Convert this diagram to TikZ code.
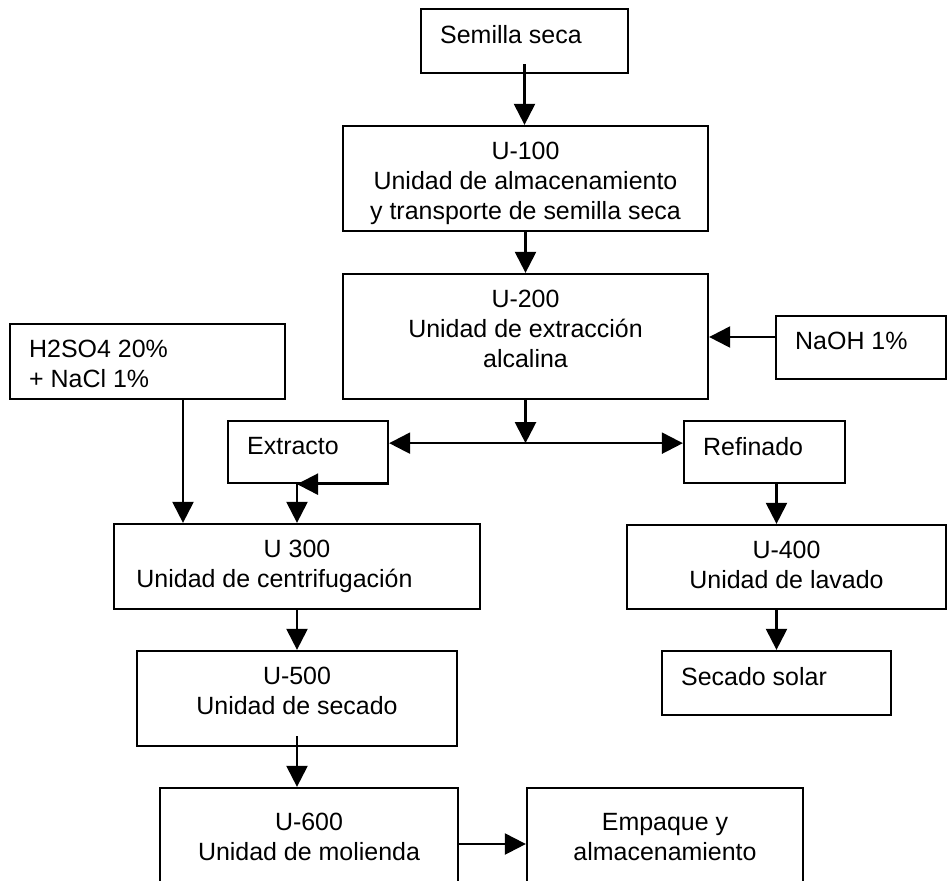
\documentclass[tikz,border=0pt]{standalone}
\usepackage{fontspec}
\setmainfont{Liberation Sans}
\usepackage{xcolor}
\usetikzlibrary{arrows.meta,calc}
\definecolor{ink}{HTML}{000000}

\begin{document}
\begin{tikzpicture}[
    unitbox/.style={draw=ink, line width=1.3pt, inner sep=0pt},
    midtxt/.style={anchor=north, yshift=-0.34cm, inner sep=0pt, align=center, text=ink, font=\fontsize{14.2pt}{17.1pt}\selectfont},
    lefttxt/.style={anchor=north west, xshift=0.4cm, yshift=-0.34cm, inner sep=0pt, align=left, text=ink, font=\fontsize{14.2pt}{17.1pt}\selectfont},
    flow/.style={draw=ink, line width=1.3pt, -{Triangle[length=0.42cm,width=0.42cm]}}
  ]
    \useasboundingbox (0,0) rectangle (18.94,-17.6);
    \clip (0,0) rectangle (18.94,-17.6);

    \node[unitbox, minimum width=4.14cm, minimum height=1.28cm, label={[lefttxt]north west:Semilla seca}] (seed) at (10.49,-0.82) {};
    \node[unitbox, minimum width=7.30cm, minimum height=2.10cm, label={[midtxt]north:{U-100\\Unidad de almacenamiento\\y transporte de semilla seca}}] (u100) at (10.51,-3.57) {};
    \node[unitbox, minimum width=7.30cm, minimum height=2.50cm, label={[midtxt]north:{U-200\\Unidad de extracción\\alcalina}}] (u200) at (10.51,-6.73) {};
    \node[unitbox, minimum width=3.40cm, minimum height=1.26cm, label={[lefttxt]north west:NaOH 1\%}] (naoh) at (17.22,-6.95) {};
    \node[unitbox, minimum width=5.50cm, minimum height=1.50cm, label={[lefttxt]north west:{H2SO4 20\%\\+ NaCl 1\%}}] (h2so4) at (2.95,-7.23) {};
    \node[unitbox, minimum width=3.20cm, minimum height=1.24cm, label={[lefttxt]north west:Extracto}] (extracto) at (6.16,-9.04) {};
    \node[unitbox, minimum width=3.22cm, minimum height=1.24cm, label={[lefttxt]north west:Refinado}] (refinado) at (15.29,-9.04) {};
    \node[unitbox, minimum width=7.32cm, minimum height=1.70cm, label={[midtxt]north:{U 300\\Unidad de centrifugación\hspace*{0.9cm}}}] (u300) at (5.94,-11.33) {};
    \node[unitbox, minimum width=6.38cm, minimum height=1.68cm, label={[midtxt]north:{U-400\\Unidad de lavado}}] (u400) at (15.73,-11.34) {};
    \node[unitbox, minimum width=6.40cm, minimum height=1.90cm, label={[midtxt]north:{U-500\\Unidad de secado}}] (u500) at (5.94,-13.97) {};
    \node[unitbox, minimum width=4.58cm, minimum height=1.28cm, label={[lefttxt]north west:Secado solar}] (secado) at (15.53,-13.66) {};
    \node[unitbox, minimum width=5.96cm, minimum height=2.24cm, label={[midtxt, yshift=-0.18cm]north:{U-600\\Unidad de molienda}}] (u600) at (6.18,-16.88) {};
    \node[unitbox, minimum width=5.52cm, minimum height=2.24cm, label={[midtxt, yshift=-0.18cm]north:{Empaque y\\almacenamiento}}] (empaque) at (13.30,-16.88) {};

    \coordinate (split) at ($(u200.south)+(0,-0.86)$);
    \coordinate (naohin) at ([yshift=0.21cm]naoh.west);
    \coordinate (acidout) at ([xshift=0.71cm]h2so4.south);
    \coordinate (exdrop) at (extracto.south -| u300.north);

    \draw[flow, shorten <=-0.2cm] (seed.south) -- (seed.south |- u100.north);
    \draw[flow] (u100.south) -- (u200.north);
    \draw[flow] (naohin) -- (naohin -| u200.east);
    \draw[flow] (u200.south) -- (split);
    \draw[flow] (split) -- (split -| extracto.east);
    \draw[flow] (split) -- (split -| refinado.west);
    \draw[flow] (extracto.south east) -- (exdrop);
    \draw[flow] (exdrop) -- (u300.north);
    \draw[flow] (acidout) -- (acidout |- u300.north);
    \draw[flow] (refinado.south -| secado.north) -- (u400.north -| secado.north);
    \draw[flow] (u400.south -| secado.north) -- (secado.north);
    \draw[flow] (u300.south) -- (u500.north);
    \draw[flow, shorten <=-0.22cm] (u500.south) -- (u500.south |- u600.north);
    \draw[flow] (u600.east) -- (empaque.west);
  \end{tikzpicture}
\end{document}
